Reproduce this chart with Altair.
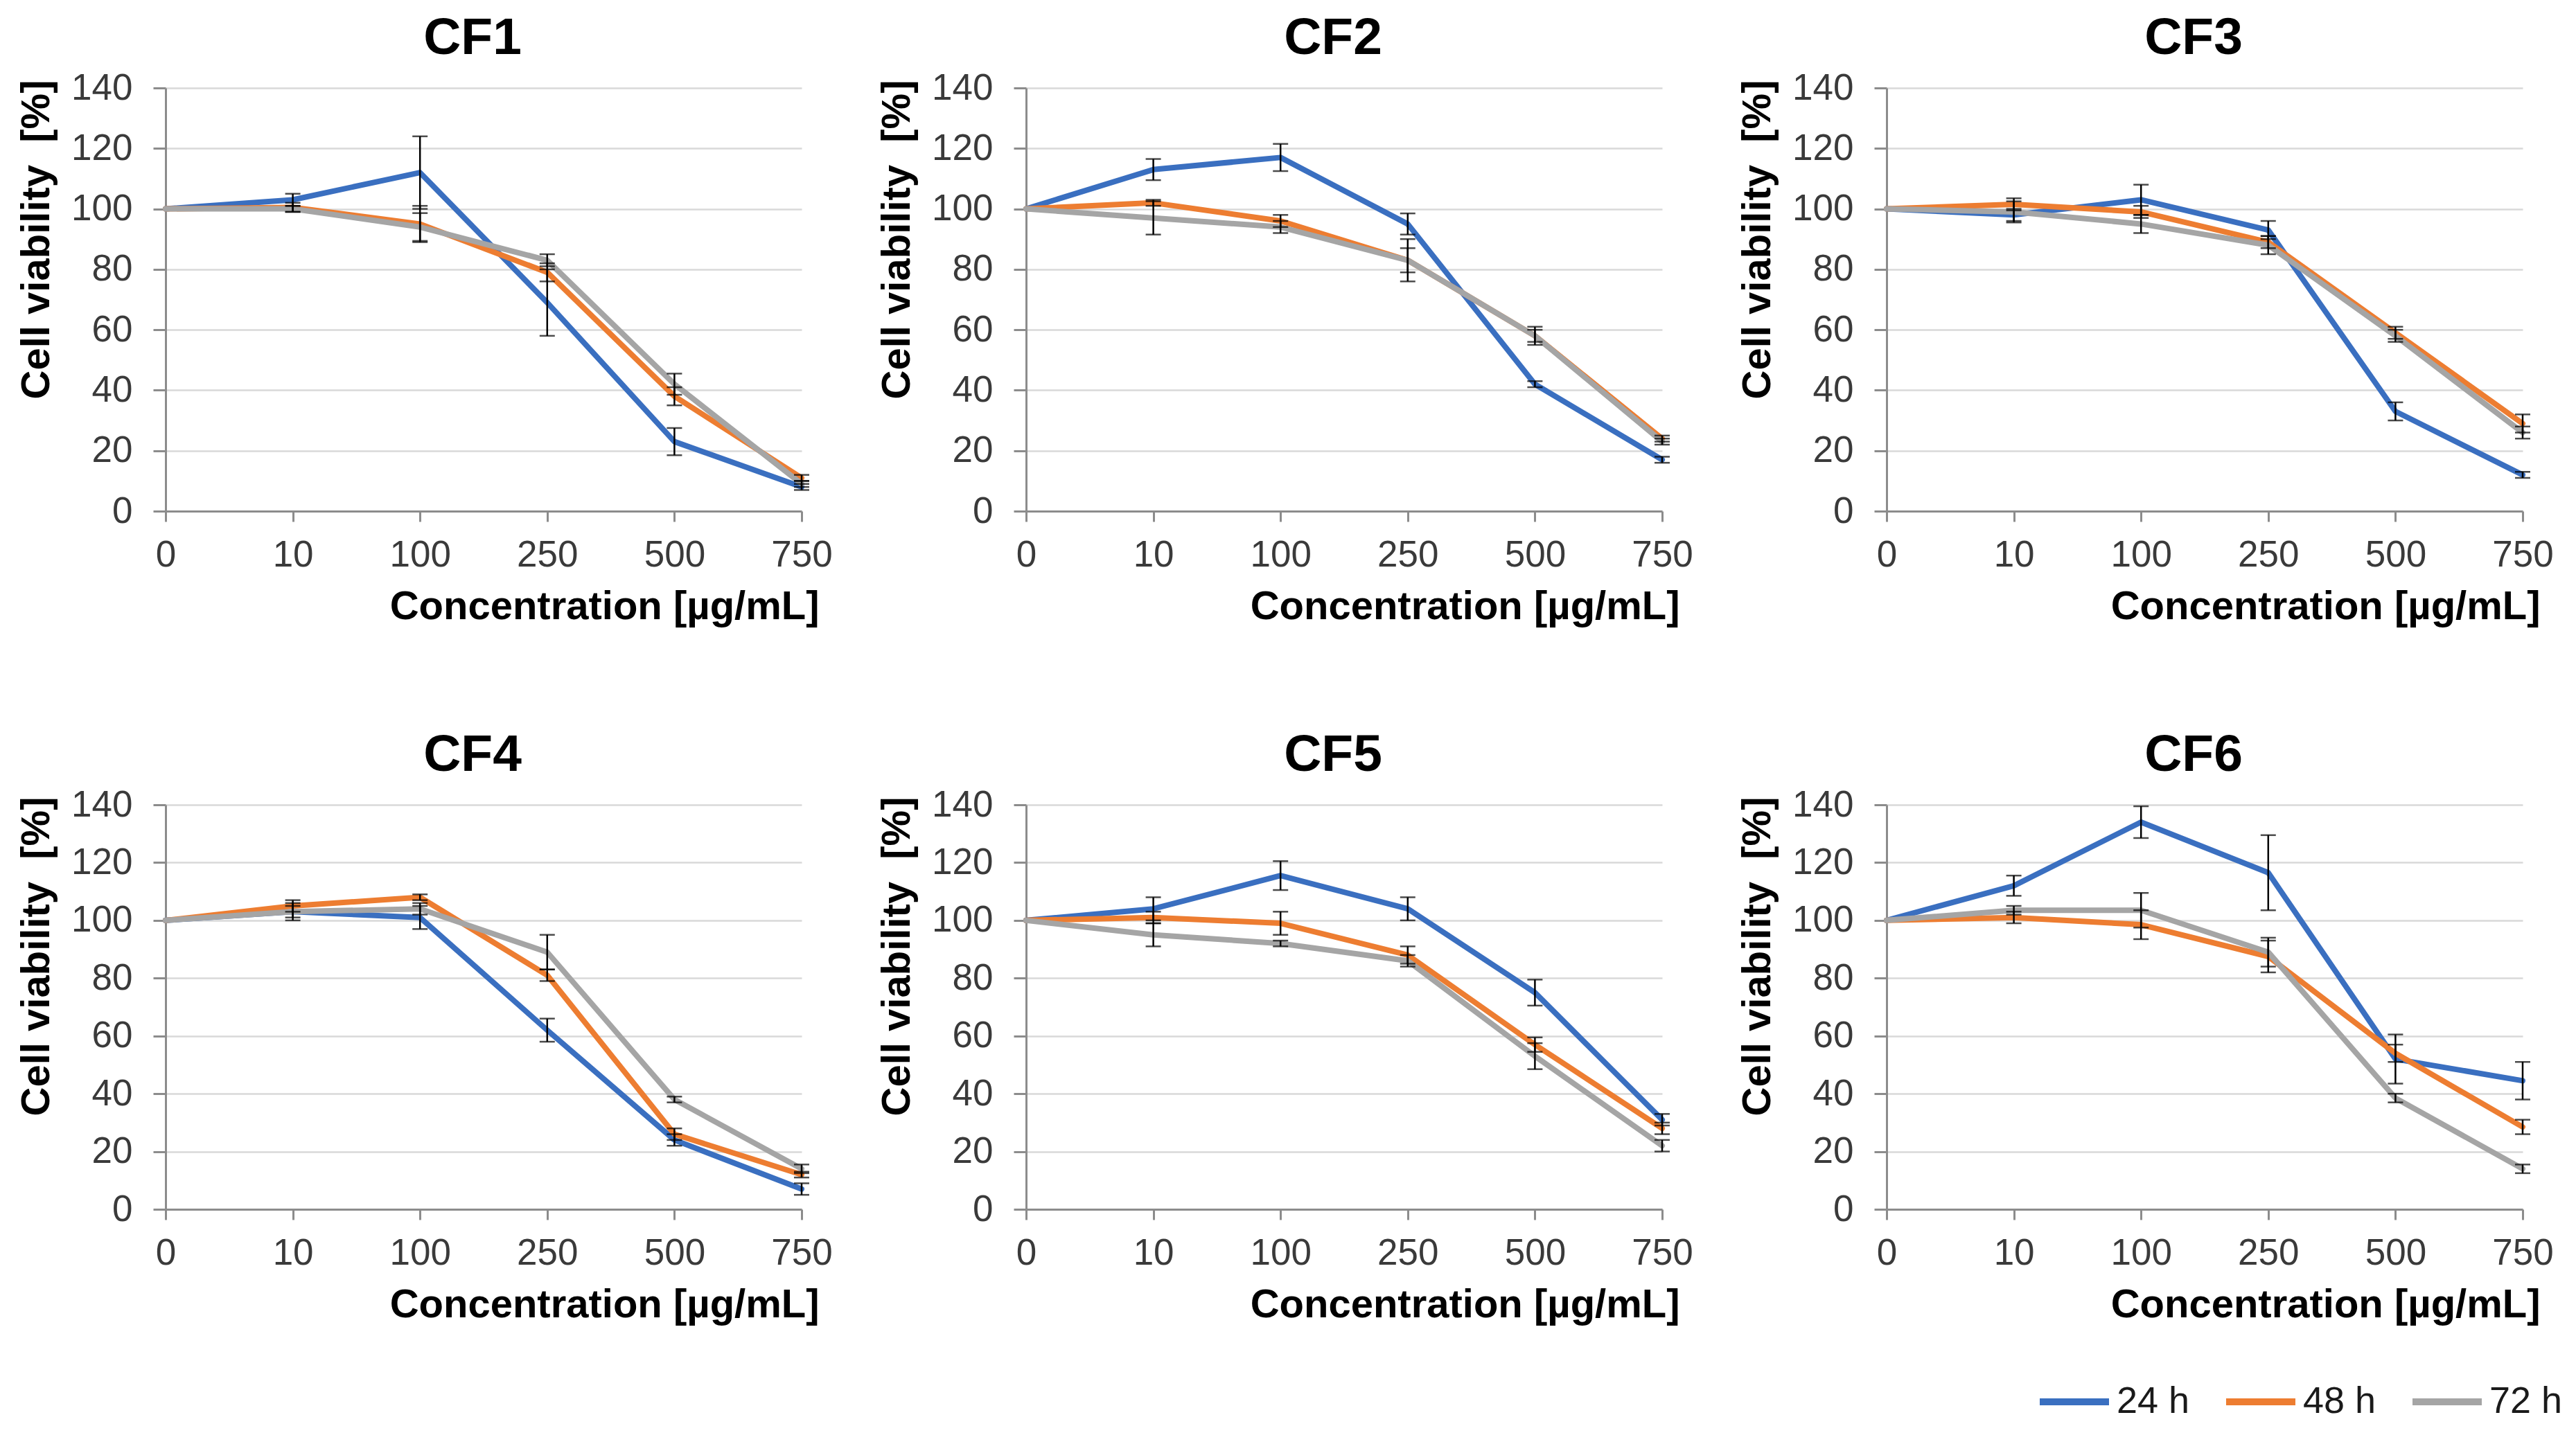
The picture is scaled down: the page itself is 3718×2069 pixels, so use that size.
import altair as alt
import pandas as pd

# ---------------- data ----------------
concentrations = ["0", "10", "100", "250", "500", "750"]
series_names = ["24 h", "48 h", "72 h"]
series_colors = ["#3A6FC0", "#ED7D31", "#A5A5A5"]
panel_titles = ["CF1", "CF2", "CF3", "CF4", "CF5", "CF6"]

cf1_24h = [100, 103, 112, 69, 23, 8]
cf1_48h = [100, 100.5, 95, 79, 38, 11]
cf1_72h = [100, 100, 94, 83, 42, 9]
cf1_24h_sd = [0, 2, 12, 11, 4.5, 1]
cf1_48h_sd = [0, 1.5, 6, 3, 3, 1]
cf1_72h_sd = [0, 1, 4.6, 2, 3.5, 1]

cf2_24h = [100, 113, 117, 95, 42, 17]
cf2_48h = [100, 102, 96, 83, 58, 24]
cf2_72h = [100, 97, 94, 83, 58, 23]
cf2_24h_sd = [0, 3.5, 4.5, 3.5, 1, 1]
cf2_48h_sd = [0, 1, 2, 4, 3, 1]
cf2_72h_sd = [0, 5.5, 2, 7, 2, 1]

cf3_24h = [100, 98, 103, 93, 33, 12]
cf3_48h = [100, 101.5, 99, 89, 59, 29]
cf3_72h = [100, 99, 95, 88, 58, 26]
cf3_24h_sd = [0, 2, 5, 3, 3, 1]
cf3_48h_sd = [0, 2, 2, 2, 2, 3]
cf3_72h_sd = [0, 3.5, 3, 3, 2, 2]

cf4_24h = [100, 103, 101, 62, 24, 7]
cf4_48h = [100, 105, 108, 81, 26, 12]
cf4_72h = [100, 103, 104, 89, 38, 14]
cf4_24h_sd = [0, 2, 4, 4, 2, 2]
cf4_48h_sd = [0, 2, 1, 2, 2, 1]
cf4_72h_sd = [0, 3, 2, 6, 1, 1.5]

cf5_24h = [100, 104, 115.5, 104, 75, 31]
cf5_48h = [100, 101, 99, 88, 57, 28]
cf5_72h = [100, 95, 92, 86, 53, 22]
cf5_24h_sd = [0, 4, 5, 4, 4.5, 2]
cf5_48h_sd = [0, 2, 4, 3, 2.5, 2]
cf5_72h_sd = [0, 4, 1, 2, 4.5, 2]

cf6_24h = [100, 112, 134, 116.5, 52, 44.5]
cf6_48h = [100, 101, 98.5, 87.5, 54, 28.5]
cf6_72h = [100, 103.5, 103.5, 89, 38.5, 14]
cf6_24h_sd = [0, 3.5, 5.5, 13, 8.5, 6.5]
cf6_48h_sd = [0, 2, 5, 5.5, 3, 2.5]
cf6_72h_sd = [0, 1.5, 6, 5, 1.5, 1.5]

panel_values = {
    "CF1": [cf1_24h, cf1_48h, cf1_72h],
    "CF2": [cf2_24h, cf2_48h, cf2_72h],
    "CF3": [cf3_24h, cf3_48h, cf3_72h],
    "CF4": [cf4_24h, cf4_48h, cf4_72h],
    "CF5": [cf5_24h, cf5_48h, cf5_72h],
    "CF6": [cf6_24h, cf6_48h, cf6_72h],
}
panel_errors = {
    "CF1": [cf1_24h_sd, cf1_48h_sd, cf1_72h_sd],
    "CF2": [cf2_24h_sd, cf2_48h_sd, cf2_72h_sd],
    "CF3": [cf3_24h_sd, cf3_48h_sd, cf3_72h_sd],
    "CF4": [cf4_24h_sd, cf4_48h_sd, cf4_72h_sd],
    "CF5": [cf5_24h_sd, cf5_48h_sd, cf5_72h_sd],
    "CF6": [cf6_24h_sd, cf6_48h_sd, cf6_72h_sd],
}

# ---------------- layout / style ----------------
W = 918
H_TOP = 611
H_BOT = 584
FONT = "Liberation Sans"


def make_df(title):
    rows = []
    for s, vals, errs in zip(series_names, panel_values[title], panel_errors[title]):
        for c, v, e in zip(concentrations, vals, errs):
            rows.append({"conc": c, "series": s, "viability": v,
                         "lo": v - e, "hi": v + e, "err": e})
    return pd.DataFrame(rows)


x_axis = alt.Axis(title="Concentration [µg/mL]", labelAngle=0,
                  titleX=W + 25, titleY=155, titleAlign="right",
                  titleBaseline="alphabetic")
y_axis = alt.Axis(title="Cell viability\u00a0 [%]", values=list(range(0, 141, 20)),
                  titleX=-186, titleY=-12, titleAlign="right",
                  titleBaseline="middle")
x_scale = alt.Scale(type="point", padding=0)
y_scale = alt.Scale(domain=[0, 140], nice=False)

color = alt.Color(
    "series:N",
    scale=alt.Scale(domain=series_names, range=series_colors),
    legend=alt.Legend(title=None, orient="none", direction="horizontal",
                      legendX=2700, legendY=1842, padding=0,
                      symbolType="stroke", symbolSize=10000, symbolStrokeWidth=10,
                      labelFontSize=54, labelFont=FONT, labelColor="#1a1a1a",
                      labelOffset=6, columnPadding=32, symbolOpacity=1),
)


def panel(title, h):
    df = make_df(title)
    base = alt.Chart(df)
    lines = base.mark_line(strokeWidth=8, strokeJoin="round", strokeCap="round").encode(
        x=alt.X("conc:O", sort=concentrations, scale=x_scale, axis=x_axis),
        y=alt.Y("viability:Q", scale=y_scale, axis=y_axis),
        color=color,
    )
    rules = base.transform_filter("datum.err > 0").mark_rule(
        color="black", strokeWidth=2.5).encode(
        x=alt.X("conc:O", sort=concentrations, scale=x_scale, axis=x_axis),
        y=alt.Y("lo:Q", scale=y_scale, axis=y_axis),
        y2="hi:Q",
    )
    caps = base.transform_filter("datum.err > 0").transform_fold(
        ["lo", "hi"], as_=["which", "cap"]).mark_tick(
        color="black", size=22, thickness=2.5, orient="horizontal").encode(
        x=alt.X("conc:O", sort=concentrations, scale=x_scale, axis=x_axis),
        y=alt.Y("cap:Q", scale=y_scale, axis=y_axis),
    )
    return alt.layer(lines, rules, caps).properties(
        width=W, height=h, title=alt.TitleParams(title, dx=-16))


panels = [panel(t, H_TOP if i < 3 else H_BOT) for i, t in enumerate(panel_titles)]

chart = alt.concat(
    *panels, columns=3, spacing=alt.RowColnumber(row=424, column=324), bounds="flush"
).properties(
    padding={"left": 15, "top": 10, "right": 5, "bottom": 0}
).configure_view(stroke=None).configure_axis(
    labelFont=FONT, labelFontSize=53, labelColor="#3a3a3a",
    titleFont=FONT, titleFontSize=58, titleFontWeight="bold", titleColor="black",
    domainColor="#8c8c8c", domainWidth=3, tickColor="#8c8c8c", tickWidth=3,
    gridColor="#d9d9d9", gridWidth=2.5,
).configure_axisX(
    grid=False, tickSize=15, labelPadding=22,
).configure_axisY(
    grid=True, tickSize=18, labelPadding=30,
).configure_title(
    font=FONT, fontSize=75, fontWeight="bold", color="black",
    anchor="middle", frame="group", offset=7,
)

chart.save("out.html", embed_options={"renderer": "svg", "actions": False})
